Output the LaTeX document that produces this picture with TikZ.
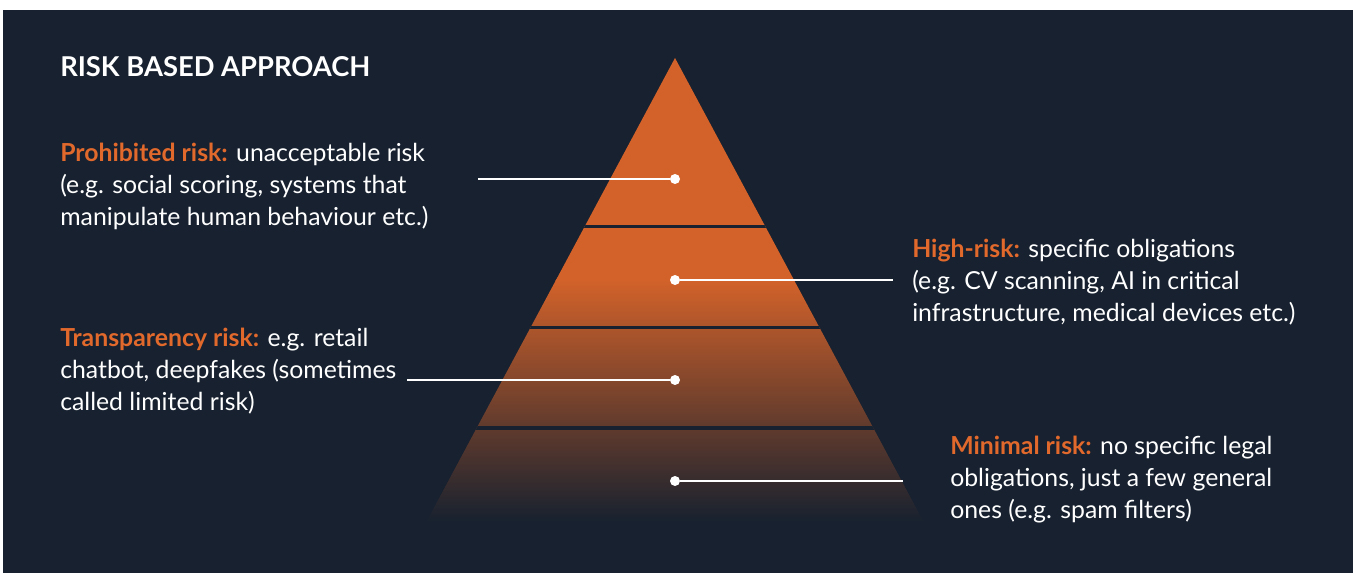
\documentclass[tikz,border=0pt]{standalone}
\usepackage{fontspec}
\setmainfont{Lato}
\usetikzlibrary{positioning}

\definecolor{navy}{HTML}{17212F}
\definecolor{rust}{HTML}{D2622A}
\definecolor{labelorange}{HTML}{E2692C}

\tikzset{
	dot/.style={circle, fill=white, inner sep=0pt, minimum size=7.5pt},
	lead/.style={draw=white, line width=1.8pt},
	tierline/.style={draw=navy, line width=2.4pt},
	% base anchor sits on the last line of a multi-line node
	info/.style={anchor=base west, align=left, text=white, inner sep=0pt,
		font=\fontsize{18.6}{24}\selectfont},
}
\newcommand{\riskname}[1]{\textcolor{labelorange}{\bfseries #1}}

\begin{document}
\begin{tikzpicture}[x=0.75pt, y=-0.75pt]
	\fill[white] (0,0) rectangle (1353,573);
	\fill[navy] (3,10) rectangle (1353,573);
	\useasboundingbox (0,0) rectangle (1353,573);

	% pyramid, fading into the background
	\begin{scope}
		\clip (675,58) -- (928,530) -- (422,530) -- cycle;
		\fill[rust] (400,50) rectangle (950,281);
		\shade[top color=rust, bottom color=navy] (400,280) rectangle (950,522);
		\fill[navy] (400,521) rectangle (950,540);
		\foreach \y in {226.5,327.5,428} {
			\draw[tierline] (400,\y) -- (950,\y);
		}
	\end{scope}

	\node[anchor=base west, inner sep=0pt, text=white,
		font=\fontsize{20.5}{24}\selectfont\bfseries] (title) at (60,77) {RISK BASED APPROACH};

	\node[info] (prohibited) at (60,226) {\riskname{Prohibited risk:} unacceptable risk\\
		(e.g. social scoring, systems that\\ manipulate human behaviour etc.)};
	\node[info] (high) at (912,322) {\riskname{High-risk:} specific obligations\\
		(e.g. CV scanning, AI in critical\\ infrastructure, medical devices etc.)};
	\node[info] (transparency) at (60,411) {\riskname{Transparency risk:} e.g. retail\\
		chatbot, deepfakes (sometimes\\ called limited risk)};
	\node[info] (minimal) at (950,518) {\riskname{Minimal risk:} no specific legal\\
		obligations, just a few general\\ ones (e.g. spam filters)};

	% dots on the tiers and their leads
	\node[dot] (d1) at (675,179) {};
	\node[dot] (d2) at (675,280) {};
	\node[dot] (d3) at (675,380) {};
	\node[dot] (d4) at (675,481) {};
	\coordinate (e1) at (478,179);
	\coordinate (e2) at (893,280);
	\coordinate (e3) at (407,380);
	\coordinate (e4) at (903,481);
	\draw[lead] (e1) -- (d1);
	\draw[lead] (d2) -- (e2);
	\draw[lead] (e3) -- (d3);
	\draw[lead] (d4) -- (e4);
\end{tikzpicture}
\end{document}
